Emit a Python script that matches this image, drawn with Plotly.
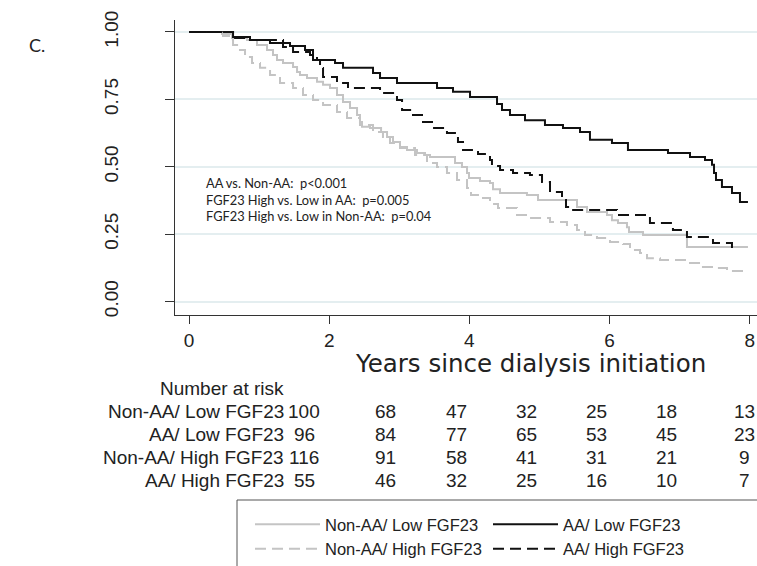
import plotly.graph_objects as go

# ---------------- data ----------------
t_nonaa_low = [0, 0.471, 0.613, 0.827, 0.97, 1.113, 1.198, 1.255, 1.341, 1.484, 1.541, 1.583, 1.683,
               1.826, 1.912, 2.011, 2.111, 2.197, 2.297, 2.397, 2.439, 2.468, 2.582, 2.74, 2.825,
               2.91, 3.01, 3.11, 3.252, 3.367, 3.438, 3.795, 3.894, 3.966, 3.994, 4.151, 4.294,
               4.337, 4.437, 4.821, 4.979, 5.535, 5.678, 5.963, 6.034, 6.12, 6.248, 6.277, 6.477,
               7.104, 7.974]
s_nonaa_low = [1.0, 0.993, 0.978, 0.970, 0.952, 0.933, 0.915, 0.896, 0.885, 0.870, 0.852, 0.840, 0.829,
               0.815, 0.804, 0.792, 0.766, 0.740, 0.718, 0.692, 0.666, 0.648, 0.644, 0.629, 0.610,
               0.592, 0.573, 0.562, 0.551, 0.544, 0.536, 0.514, 0.499, 0.477, 0.458, 0.447, 0.440,
               0.417, 0.403, 0.395, 0.377, 0.351, 0.332, 0.321, 0.302, 0.291, 0.276, 0.258, 0.247,
               0.202, 0.202]

t_aa_low = [0, 0.628, 0.87, 1.155, 1.441, 1.655, 1.769, 2.083, 2.197, 2.625, 2.725, 2.967, 3.538,
            3.766, 4.009, 4.394, 4.465, 4.579, 4.793, 5.078, 5.335, 5.578, 5.72, 6.034, 6.262,
            6.833, 7.147, 7.361, 7.461, 7.49, 7.518, 7.603, 7.746, 7.86, 7.974]
s_aa_low = [1.0, 0.981, 0.970, 0.959, 0.948, 0.933, 0.896, 0.885, 0.867, 0.848, 0.829, 0.811, 0.792,
            0.778, 0.759, 0.733, 0.711, 0.692, 0.673, 0.655, 0.644, 0.629, 0.600, 0.588, 0.562,
            0.551, 0.536, 0.525, 0.507, 0.477, 0.451, 0.425, 0.403, 0.369, 0.369]

t_nonaa_high = [0, 0.4, 0.485, 0.585, 0.628, 0.727, 0.799, 0.899, 1.013, 1.156, 1.298, 1.484, 1.626,
                1.769, 1.912, 2.111, 2.254, 2.439, 2.625, 2.767, 2.867, 3.01, 3.224, 3.395, 3.538,
                3.68, 3.823, 3.966, 4.023, 4.194, 4.294, 4.408, 4.679, 4.864, 5.15, 5.392, 5.535,
                5.649, 5.82, 6.006, 6.191, 6.291, 6.434, 6.534, 6.719, 7.104, 7.332, 7.532, 7.675,
                7.889]
s_nonaa_high = [1.0, 0.999, 0.985, 0.970, 0.952, 0.933, 0.907, 0.885, 0.867, 0.840, 0.811, 0.792, 0.766,
                0.748, 0.729, 0.703, 0.681, 0.655, 0.629, 0.610, 0.588, 0.570, 0.544, 0.514, 0.499,
                0.477, 0.451, 0.421, 0.395, 0.384, 0.362, 0.347, 0.321, 0.310, 0.295, 0.284, 0.265,
                0.247, 0.236, 0.221, 0.213, 0.191, 0.180, 0.161, 0.154, 0.143, 0.128, 0.124, 0.113,
                0.098]

t_aa_high = [0, 0.628, 0.827, 1.341, 1.484, 1.726, 1.826, 1.869, 1.912, 2.111, 2.268, 2.725, 2.967,
             3.039, 3.181, 3.338, 3.481, 3.68, 3.837, 3.909, 4.123, 4.294, 4.322, 4.437, 4.622,
             4.864, 5.036, 5.15, 5.321, 5.378, 5.435, 6.106, 6.576, 6.904, 7.104, 7.475, 7.746]
s_aa_high = [1.0, 0.978, 0.970, 0.944, 0.926, 0.915, 0.896, 0.866, 0.833, 0.811, 0.792, 0.774, 0.748,
             0.711, 0.692, 0.666, 0.644, 0.625, 0.592, 0.562, 0.547, 0.525, 0.503, 0.488, 0.477,
             0.469, 0.443, 0.406, 0.377, 0.351, 0.340, 0.321, 0.291, 0.265, 0.239, 0.217, 0.191]

series_names = ["Non-AA/ Low FGF23", "AA/ Low FGF23", "Non-AA/ High FGF23", "AA/ High FGF23"]
series_groups = ["nonaa", "aa", "nonaa", "aa"]

x_ticks = [0, 2, 4, 6, 8]
y_ticks = [0.0, 0.25, 0.5, 0.75, 1.0]

risk_nonaa_low = [100, 68, 47, 32, 25, 18, 13]
risk_aa_low = [96, 84, 77, 65, 53, 45, 23]
risk_nonaa_high = [116, 91, 58, 41, 31, 21, 9]
risk_aa_high = [55, 46, 32, 25, 16, 10, 7]

pvalue_lines = ["AA vs. Non-AA:  p<0.001",
                "FGF23 High vs. Low in AA:  p=0.005",
                "FGF23 High vs. Low in Non-AA:  p=0.04"]

# ---------------- figure ----------------
W, H = 757, 566
def px(x):
    return x / W
def py(y):
    return 1 - y / H

GRAY = "#c4c4c4"
BLACK = "#111111"
DASH = "11px,6px"

fig = go.Figure()
styles = [
    (t_nonaa_low, s_nonaa_low, GRAY, "solid"),
    (t_aa_low, s_aa_low, BLACK, "solid"),
    (t_nonaa_high, s_nonaa_high, GRAY, DASH),
    (t_aa_high, s_aa_high, BLACK, DASH),
]
for name, grp, (tt, ss, col, dash) in zip(series_names, series_groups, styles):
    fig.add_trace(go.Scatter(
        x=tt, y=ss, mode="lines", name=name, legendgroup=grp,
        line=dict(color=col, width=2, dash=dash, shape="hv"),
        hoverinfo="skip",
    ))

TICKFONT = dict(family="Liberation Sans, Arial, sans-serif", size=19, color="#222222")

fig.update_layout(
    width=W, height=H,
    margin=dict(l=0, r=0, t=0, b=0, autoexpand=False),
    paper_bgcolor="white", plot_bgcolor="white",
    showlegend=True,
    legend=dict(
        orientation="h",
        xref="container", yref="container",
        x=px(250), y=py(507), xanchor="left", yanchor="top",
        borderwidth=0, bgcolor="rgba(0,0,0,0)",
        entrywidth=158, entrywidthmode="pixels",
        itemwidth=65, tracegroupgap=0,
        font=dict(family="Liberation Sans, Arial, sans-serif", size=16.5, color="#222222"),
        traceorder="grouped",
    ),
    xaxis=dict(
        domain=[px(175), 1],
        range=[-0.2, 8.103],
        tickvals=x_ticks,
        ticks="outside", ticklen=8, tickcolor="#333333", tickwidth=1,
        showline=True, linecolor="#333333", linewidth=1,
        showgrid=False, zeroline=False,
        tickfont=TICKFONT, automargin=False,
    ),
    yaxis=dict(
        domain=[py(315), py(20)],
        range=[-0.050, 1.0445],
        tickvals=y_ticks,
        tickformat=".2f",
        tickangle=-90,
        ticks="outside", ticklen=9, tickcolor="#333333", tickwidth=1,
        showline=True, linecolor="#333333", linewidth=1,
        showgrid=True, gridcolor="#e4eef0", gridwidth=1.5,
        zeroline=False,
        tickfont=TICKFONT, automargin=False,
        ticklabelstandoff=39,
    ),
    shapes=[dict(type="rect", xref="paper", yref="paper",
                 x0=px(237), x1=px(790), y0=py(500), y1=py(600),
                 line=dict(color="#555555", width=1), fillcolor="rgba(0,0,0,0)")],
)

ann = []
# panel letter
ann.append(dict(text="C.", x=px(27), y=py(45), xref="paper", yref="paper",
                xanchor="left", yanchor="middle", showarrow=False,
                font=dict(family="Lato, Open Sans, sans-serif", size=18, color="#222222")))
# x-axis title
ann.append(dict(text="Years since dialysis initiation", x=px(530), y=py(363), xref="paper", yref="paper",
                xanchor="center", yanchor="middle", showarrow=False,
                font=dict(family="DejaVu Sans, sans-serif", size=24.5, color="#222222")))
# p-values
for i, line in enumerate(pvalue_lines):
    ann.append(dict(text=line, x=px(204), y=py(183 + 16.5 * i), xref="paper", yref="paper",
                    xanchor="left", yanchor="middle", showarrow=False,
                    font=dict(family="Lato, Open Sans, sans-serif", size=12.8, color="#222222")))
# number at risk table
TABFONT = dict(family="Liberation Sans, Arial, sans-serif", size=19, color="#222222")
ann.append(dict(text="Number at risk", x=px(286), y=py(388), xref="paper", yref="paper",
                xanchor="right", yanchor="middle", showarrow=False, font=TABFONT))
col_x = [304, 386, 456, 526, 596, 666, 744]
rows = [risk_nonaa_low, risk_aa_low, risk_nonaa_high, risk_aa_high]
for r, (lab, vals) in enumerate(zip(series_names, rows)):
    yy = 411 + 23 * r
    ann.append(dict(text=lab, x=px(286), y=py(yy), xref="paper", yref="paper",
                    xanchor="right", yanchor="middle", showarrow=False, font=TABFONT))
    for cx, v in zip(col_x, vals):
        ann.append(dict(text=str(v), x=px(cx), y=py(yy), xref="paper", yref="paper",
                        xanchor="center", yanchor="middle", showarrow=False, font=TABFONT))
fig.update_layout(annotations=ann)

fig.write_html("out.html", config={"displayModeBar": False},
               post_script="document.body.style.margin='0px';document.body.style.padding='0px';")
